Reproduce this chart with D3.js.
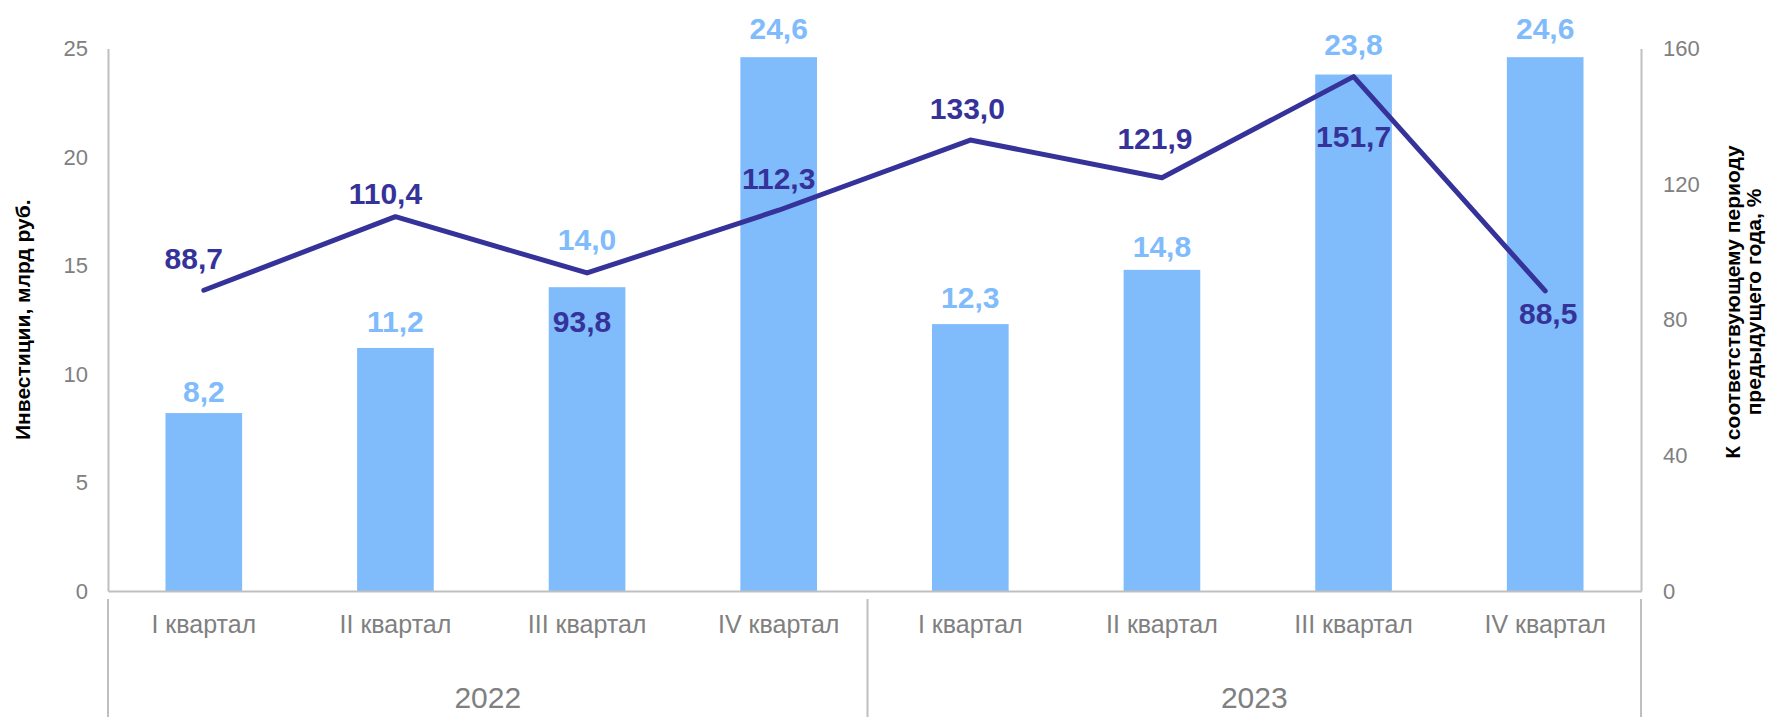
<!DOCTYPE html>
<html>
<head>
<meta charset="utf-8">
<script src="https://cdn.jsdelivr.net/npm/d3@7"></script>
<style>
  body { margin: 0; background: #fff; }
  svg { display: block; }
  .tick-lbl { font-family: "Liberation Sans", Arial, sans-serif; font-size: 22px; fill: #808080; }
  .cat-lbl { font-family: "Liberation Sans", Arial, sans-serif; font-size: 25px; fill: #808080; }
  .year-lbl { font-family: "Liberation Sans", Arial, sans-serif; font-size: 30px; fill: #808080; }
  .axis-title { font-family: "Liberation Sans Narrow", "Arial Narrow", "Liberation Sans", sans-serif; font-stretch: condensed; font-weight: bold; font-size: 21px; fill: #000; }
  .val { font-family: "Liberation Sans", Arial, sans-serif; font-weight: bold; font-size: 30px; }
</style>
</head>
<body>
<div id="chart"></div>
<script>
// data
const years = ['2022', '2023'];
const quarters = ['I квартал', 'II квартал', 'III квартал', 'IV квартал'];
const investment = [8.2, 11.2, 14.0, 24.6, 12.3, 14.8, 23.8, 24.6];
const growth = [88.7, 110.4, 93.8, 112.3, 133.0, 121.9, 151.7, 88.5];
const leftTicks = [0, 5, 10, 15, 20, 25];
const rightTicks = [0, 40, 80, 120, 160];
const leftTitle = 'Инвестиции, млрд руб.';
const rightTitle = ['К соответствующему периоду', 'предыдущего года, %'];

// label placement tweaks (px), like the manual moves in the source chart
const barLabelGap = [11, 16, 37, 18, 16, 13, 20, 18];
const lineLabelShift = [[-10, -21], [-10, -13], [-5, 59], [0, -21], [-3, -21], [-7, -29], [0, 70], [3, 33]];

const width = 1770, height = 717;
const margin = { left: 108, right: 129, top: 48.5, bottom: 126 };
const barColor = '#80bbfc', lineColor = '#35339a', axisColor = '#bfbfbf';

const cats = years.flatMap(y => quarters.map(q => y + '|' + q));
const rows = cats.map((c, i) => ({ key: c, year: c.split('|')[0], quarter: c.split('|')[1], inv: investment[i], gr: growth[i], i: i }));

const fmt = v => d3.format('.1f')(v).replace('.', ',');

const svg = d3.select('#chart').append('svg')
    .attr('width', width)
    .attr('height', height);

const x = d3.scaleBand()
    .domain(cats)
    .range([margin.left, width - margin.right])
    .paddingInner(0.6)
    .paddingOuter(0.3);

const yLeft = d3.scaleLinear()
    .domain([0, 25])
    .range([height - margin.bottom, margin.top]);

const yRight = d3.scaleLinear()
    .domain([0, 160])
    .range([height - margin.bottom, margin.top]);

const y0 = yLeft(0);

// bars
svg.append('g').selectAll('rect')
    .data(rows)
    .join('rect')
    .attr('x', d => x(d.key))
    .attr('y', d => yLeft(d.inv))
    .attr('width', x.bandwidth())
    .attr('height', d => y0 - yLeft(d.inv))
    .attr('fill', barColor);

// axes
const leftAxis = svg.append('g')
    .attr('transform', `translate(${margin.left},0)`)
    .call(d3.axisLeft(yLeft).tickValues(leftTicks).tickSize(0).tickSizeOuter(0).tickPadding(20));

const rightAxis = svg.append('g')
    .attr('transform', `translate(${width - margin.right},0)`)
    .call(d3.axisRight(yRight).tickValues(rightTicks).tickSize(0).tickSizeOuter(0).tickPadding(22));

const bottomAxis = svg.append('g')
    .attr('transform', `translate(0,${y0})`)
    .call(d3.axisBottom(x).tickSize(0).tickSizeOuter(0).tickPadding(24).tickFormat(k => k.split('|')[1]));

[leftAxis, rightAxis, bottomAxis].forEach(a => {
    a.select('.domain').attr('stroke', axisColor).attr('stroke-width', 2);
    a.selectAll('text').attr('fill', null).attr('font-family', null).attr('font-size', null);
});
leftAxis.selectAll('.tick text').classed('tick-lbl', true);
rightAxis.selectAll('.tick text').classed('tick-lbl', true);
bottomAxis.selectAll('.tick text').classed('cat-lbl', true);

// year group separators and labels (inner separator sits a bit left of the band midpoint)
const step = x.step();
const yearBounds = years.map((yr, j) => {
    const keys = cats.filter(c => c.startsWith(yr + '|'));
    const a = x(keys[0]) - step * x.paddingInner() / 2 - 7;
    const b = x(keys[keys.length - 1]) + x.bandwidth() + step * x.paddingInner() / 2 - 7;
    return { yr: yr, a: j === 0 ? margin.left : a, b: j === years.length - 1 ? width - margin.right : b };
});

const sepX = [margin.left].concat(yearBounds.map(d => d.b));
svg.append('g').selectAll('line')
    .data(sepX)
    .join('line')
    .attr('x1', d => d).attr('x2', d => d)
    .attr('y1', y0 + 8).attr('y2', height)
    .attr('stroke', axisColor)
    .attr('stroke-width', 2);

svg.append('g').selectAll('text')
    .data(yearBounds)
    .join('text')
    .classed('year-lbl', true)
    .attr('x', d => (d.a + d.b) / 2)
    .attr('y', 708)
    .attr('text-anchor', 'middle')
    .text(d => d.yr);

// line
const line = d3.line()
    .x(d => x(d.key) + x.bandwidth() / 2)
    .y(d => yRight(d.gr));

svg.append('path')
    .datum(rows)
    .attr('d', line)
    .attr('fill', 'none')
    .attr('stroke', lineColor)
    .attr('stroke-width', 5)
    .attr('stroke-linejoin', 'round')
    .attr('stroke-linecap', 'round');

// bar value labels
svg.append('g').selectAll('text')
    .data(rows)
    .join('text')
    .classed('val', true)
    .attr('fill', barColor)
    .attr('text-anchor', 'middle')
    .attr('x', d => x(d.key) + x.bandwidth() / 2)
    .attr('y', d => yLeft(d.inv) - barLabelGap[d.i])
    .text(d => fmt(d.inv));

// line value labels
svg.append('g').selectAll('text')
    .data(rows)
    .join('text')
    .classed('val', true)
    .attr('fill', lineColor)
    .attr('text-anchor', 'middle')
    .attr('x', d => x(d.key) + x.bandwidth() / 2 + lineLabelShift[d.i][0])
    .attr('y', d => yRight(d.gr) + lineLabelShift[d.i][1])
    .text(d => fmt(d.gr));

// axis titles
svg.append('text')
    .classed('axis-title', true)
    .attr('text-anchor', 'middle')
    .attr('transform', `translate(30, ${(margin.top + y0) / 2}) rotate(-90)`)
    .text(leftTitle);

const rt = svg.append('text')
    .classed('axis-title', true)
    .attr('text-anchor', 'middle')
    .attr('transform', `translate(1740, 302) rotate(-90)`);
rt.selectAll('tspan')
    .data(rightTitle)
    .join('tspan')
    .attr('x', 0)
    .attr('dy', (d, i) => i === 0 ? 0 : 21)
    .text(d => d);
</script>
</body>
</html>
